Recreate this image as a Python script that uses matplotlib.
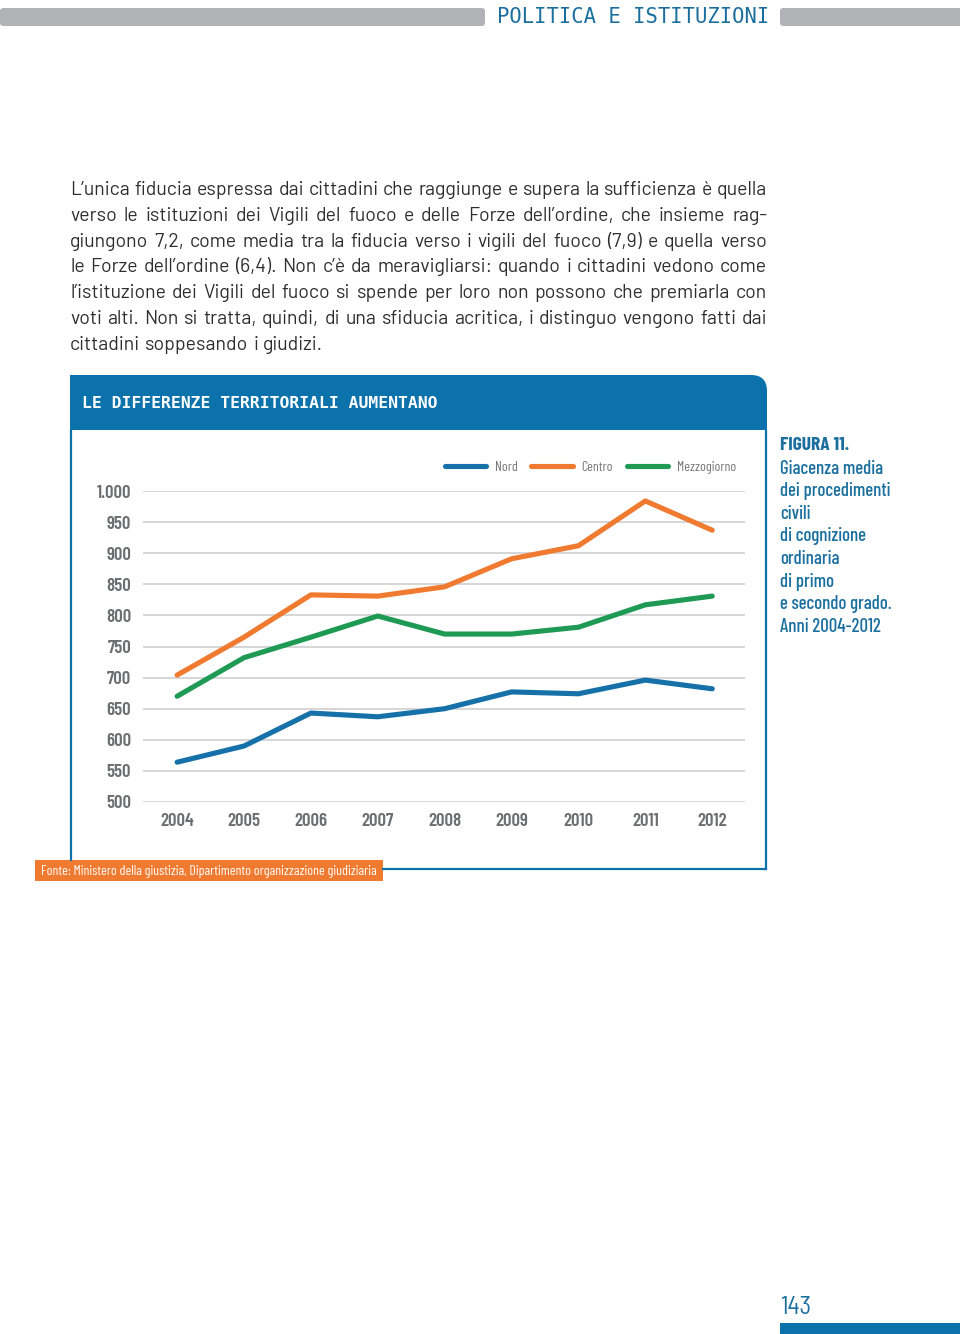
import matplotlib
matplotlib.use("Agg")
import matplotlib.pyplot as plt
from matplotlib.patches import Rectangle, FancyBboxPatch

# dati (giorni di giacenza media)
anni = [2004, 2005, 2006, 2007, 2008, 2009, 2010, 2011, 2012]
nord = [564, 590, 643, 637, 650, 677, 674, 696, 682]
centro = [704, 765, 833, 831, 846, 891, 912, 984, 937]
mezzogiorno = [670, 732, 765, 799, 770, 770, 781, 817, 831]
serie_nomi = ["Nord", "Centro", "Mezzogiorno"]
y_tick = [500, 550, 600, 650, 700, 750, 800, 850, 900, 950, 1000]
y_etichette = ["500", "550", "600", "650", "700", "750", "800", "850", "900", "950", "1.000"]

paragrafo = [
    "L’unica fiducia espressa dai cittadini che raggiunge e supera la sufficienza è quella",
    "verso le istituzioni dei Vigili del fuoco e delle Forze dell’ordine, che insieme rag-",
    "giungono 7,2, come media tra la fiducia verso i vigili del fuoco (7,9) e quella verso",
    "le Forze dell’ordine (6,4). Non c’è da meravigliarsi: quando i cittadini vedono come",
    "l’istituzione dei Vigili del fuoco si spende per loro non possono che premiarla con",
    "voti alti. Non si tratta, quindi, di una sfiducia acritica, i distinguo vengono fatti dai",
    "cittadini soppesando i giudizi.",
]
didascalia = ["Giacenza media", "dei procedimenti", "civili", "di cognizione",
              "ordinaria", "di primo", "e secondo grado.", "Anni 2004-2012"]

BLU = "#0b72ab"
BLU_TESTO = "#1a6f9f"
ARANCIO = "#ef7a30"
VERDE = "#1f9a55"
NORD_C = "#1671a9"
GRIGIO = "#6d6e70"
TESTO = ["Barlow", "DejaVu Sans"]
SEMI = ["Barlow Semi Condensed", "DejaVu Sans"]
COND = ["Barlow Condensed", "DejaVu Sans"]
MONO = ["DejaVu Sans Mono"]

plt.rcParams["font.family"] = SEMI

fig = plt.figure(figsize=(9.6, 13.34), dpi=100)
# asse di sfondo in pixel per gli elementi della pagina
bg = fig.add_axes([0, 0, 1, 1])
bg.set_xlim(0, 960)
bg.set_ylim(1334, 0)
bg.axis("off")
bg.set_zorder(-1)

# intestazione
bg.add_patch(FancyBboxPatch((0, 8), 485, 18, boxstyle="round,pad=0,rounding_size=3",
                            fc="#b1b3b6", ec="none"))
bg.add_patch(FancyBboxPatch((780, 8), 190, 18, boxstyle="round,pad=0,rounding_size=3",
                            fc="#b1b3b6", ec="none"))
bg.text(497, 17, "POLITICA E ISTITUZIONI", family=MONO, fontsize=14.8,
        color=BLU_TESTO, va="center", ha="left")

# paragrafo giustificato
renderer = fig.canvas.get_renderer()
x0, x1 = 70, 767
for i, riga in enumerate(paragrafo):
    yb = 195 + i * 25.8
    parole = riga.split()
    oggetti = [bg.text(0, yb, p, family=TESTO, fontsize=14, color="#2e2e2e",
                       va="baseline", ha="left") for p in parole]
    larg = [o.get_window_extent(renderer).width for o in oggetti]
    if i < len(paragrafo) - 1:
        spazio = (x1 - x0 - sum(larg)) / (len(parole) - 1)
    else:
        spazio = 5
    x = x0
    for o, w in zip(oggetti, larg):
        o.set_x(x)
        x += w + spazio

# riquadro del grafico
bg.add_patch(FancyBboxPatch((70, 375), 697, 55, boxstyle="round,pad=0,rounding_size=16",
                            fc=BLU, ec="none"))
bg.add_patch(Rectangle((70, 375), 30, 55, fc=BLU, ec="none"))
bg.add_patch(Rectangle((70, 400), 697, 30, fc=BLU, ec="none"))
bg.plot([71, 71], [430, 860], color=BLU, lw=1.6)
bg.plot([766, 766], [430, 869], color=BLU, lw=1.6)
bg.plot([383, 766], [869, 869], color=BLU, lw=1.6)
bg.text(82, 403, "LE DIFFERENZE TERRITORIALI AUMENTANO", family=MONO, fontsize=11.8,
        fontweight="bold", color="white", va="center", ha="left")

# fonte
bg.add_patch(Rectangle((35, 860), 348, 21, fc=ARANCIO, ec="none"))
bg.text(41, 871, "Fonte: Ministero della giustizia, Dipartimento organizzazione giudiziaria",
        family=COND, fontsize=10, color="white", va="center", ha="left")

# didascalia a destra
bg.text(780, 446, "FIGURA 11.", family=COND, fontsize=14, fontweight="bold", color=BLU_TESTO,
        va="center", ha="left")
for i, r in enumerate(didascalia):
    bg.text(780, 468.6 + i * 22.6, r, family=COND, fontsize=13.6, fontweight="medium",
            color=BLU_TESTO, va="center", ha="left")

# numero di pagina
bg.text(780, 1308, "143", fontsize=18, color=BLU_TESTO, va="center", ha="left")
bg.add_patch(Rectangle((780, 1323), 180, 11, fc=BLU, ec="none"))

# grafico
ax = fig.add_axes([143 / 960, 1 - 802 / 1334, 602 / 960, 311 / 1334])
ax.set_facecolor("none")
ax.plot(anni, nord, color=NORD_C, lw=3.7, solid_capstyle="round", label=serie_nomi[0])
ax.plot(anni, centro, color=ARANCIO, lw=3.7, solid_capstyle="round", label=serie_nomi[1])
ax.plot(anni, mezzogiorno, color=VERDE, lw=3.7, solid_capstyle="round", label=serie_nomi[2])
ax.set_xlim(2003.49, 2012.49)
ax.set_ylim(500, 1000)
ax.set_xticks(anni)
ax.set_xticklabels([str(a) for a in anni])
ax.set_yticks(y_tick)
ax.set_yticklabels(y_etichette)
for s in ax.spines.values():
    s.set_visible(False)
ax.yaxis.grid(True, color="#cfcfcf", lw=1.2)
ax.set_axisbelow(True)
ax.tick_params(axis="both", length=0, labelsize=13.5, labelcolor=GRIGIO)
ax.tick_params(axis="y", pad=8.6)
ax.tick_params(axis="x", pad=8.0)
for t in ax.get_xticklabels() + ax.get_yticklabels():
    t.set_family(COND)
    t.set_fontweight("semibold")
for l in ax.get_lines():
    l.set_clip_on(False)

fig.legend(loc="center right", bbox_to_anchor=(736 / 960, 1 - 467 / 1334), ncol=3,
           frameon=False, prop={"family": COND, "size": 10}, labelcolor="#777777",
           handlelength=3.0, handletextpad=0.6, columnspacing=1.0,
           borderaxespad=0, borderpad=0)

fig.savefig("out.png", dpi=100)
